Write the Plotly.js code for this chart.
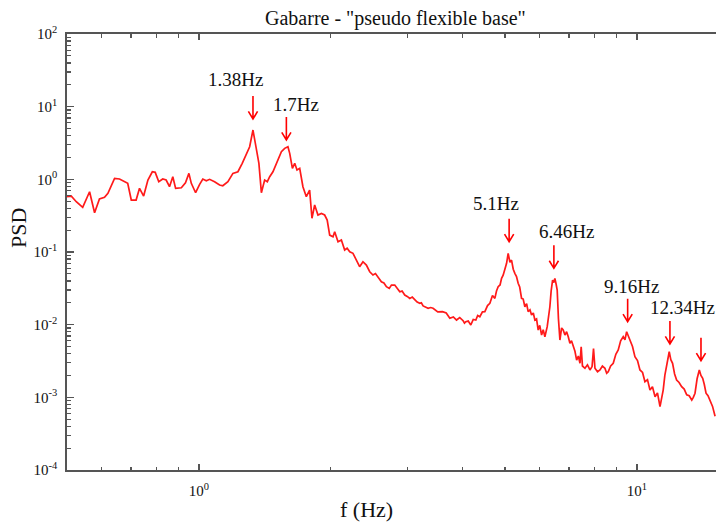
<!DOCTYPE html>
<html>
<head>
<meta charset="utf-8">
<script src="https://cdn.plot.ly/plotly-3.0.1.min.js"></script>
<style>
html,body{margin:0;padding:0;background:#ffffff;}
#chart{width:716px;height:522px;}
</style>
</head>
<body>
<div id="chart"></div>
<script>
// Frequency (Hz)
const freq = [
  0.50,0.511,0.525,0.543,0.563,0.578,0.593,0.609,0.620,0.642,
  0.659,0.688,0.701,0.719,0.732,0.748,0.765,0.783,0.795,0.810,
  0.827,0.842,0.857,0.872,0.885,0.912,0.932,0.949,0.961,0.983,
  1.004,1.021,1.040,1.058,1.086,1.115,1.134,1.165,1.196,1.228,
  1.256,1.283,1.306,1.329,1.352,1.371,1.389,1.413,1.433,1.451,
  1.476,1.503,1.543,1.570,1.597,1.612,1.635,1.655,1.675,1.699,
  1.728,1.759,1.790,1.812,1.838,1.870,1.904,1.937,1.963,1.989,
  2.024,2.042,2.078,2.115,2.152,2.18,2.210,2.248,2.289,2.328,
  2.369,2.412,2.455,2.497,2.53,2.564,2.610,2.645,2.680,2.72,
  2.752,2.800,2.875,2.91,2.951,2.99,3.030,3.07,3.111,3.15,
  3.194,3.22,3.250,3.29,3.337,3.38,3.425,
  3.51,3.599,3.67,3.740,3.81,3.874,3.94,4.011,4.04,4.068,
  4.12,4.176,4.23,4.288,4.33,4.379,4.44,4.496,4.56,4.616,
  4.68,4.739,4.78,4.822,4.87,4.909,4.95,4.994,5.04,5.082,
  5.13,5.173,5.22,5.264,5.31,5.356,5.40,5.453,5.50,5.548,
  5.60,5.645,5.70,5.747,5.80,5.848,5.90,5.951,6.00,6.058,
  6.11,6.164,6.20,6.240,6.28,6.328,6.37,6.419,6.46,6.497,
  6.54,6.576,6.62,6.671,6.73,6.787,6.85,6.910,6.97,7.031,
  7.09,7.155,7.22,7.284,7.35,7.413,7.46,7.51,7.610,7.71,
  7.812,7.90,7.96,8.020,8.13,8.234,8.34,8.452,8.53,8.600,
  8.71,8.829,8.95,9.064,9.18,9.305,9.39,9.473,9.55,9.639,
  9.77,9.895,10.03,10.16,10.30,10.43,10.57,10.71,10.85,11.00,
  11.14,11.29,11.38,11.48,11.58,11.69,11.77,11.85,11.95,12.06,
  12.19,12.32,12.48,12.65,12.82,12.99,13.16,13.34,13.45,13.57,
  13.72,13.88,14.00,14.13,14.25,14.38,14.53,14.69,14.88,15.08
];
// PSD values
const psd = [
  0.576,0.589,0.492,0.412,0.675,0.347,0.536,0.565,0.642,1.032,
  1.010,0.881,0.519,0.519,0.752,0.589,0.978,1.272,1.248,0.927,
  1.010,0.978,0.791,1.086,0.752,0.766,0.898,1.209,0.881,0.654,
  0.853,1.010,0.957,1.000,0.927,0.835,0.816,0.927,1.209,1.272,
  1.661,2.279,2.810,4.769,2.531,1.661,0.654,0.978,0.927,1.086,
  1.272,1.661,2.398,2.671,2.810,2.279,1.417,1.661,1.343,1.417,
  0.791,0.576,0.712,0.291,0.443,0.323,0.340,0.323,0.275,0.171,
  0.162,0.190,0.138,0.146,0.1064,0.113,0.1009,0.0959,0.0775,0.0627,
  0.0735,0.0662,0.0535,0.0482,0.0505,0.0457,0.0390,0.0375,0.0333,0.0315,
  0.0351,0.0351,0.0284,0.0290,0.0256,0.0245,0.0230,0.0240,0.0218,0.0205,
  0.0197,0.0200,0.0181,0.0175,0.0168,0.0172,0.0168,
  0.0150,0.0151,0.0145,0.01223,0.0128,0.01158,0.0125,0.01133,0.0105,0.01098,
  0.0112,0.00989,0.0118,0.01158,0.0134,0.01286,0.0150,0.0151,0.0183,0.0197,
  0.0252,0.0230,0.0290,0.0333,0.0352,0.0434,0.0480,0.0565,0.0700,0.0959,
  0.0720,0.0775,0.0580,0.0509,0.0460,0.0371,0.0330,0.0230,0.0225,0.01765,
  0.0195,0.0151,0.0160,0.01357,0.0145,0.01158,0.0120,0.00844,0.0098,0.00720,
  0.0085,0.00682,0.0080,0.00937,0.0125,0.01765,0.0290,0.0411,0.0380,0.0434,
  0.0360,0.0300,0.0120,0.00614,0.0090,0.00844,0.0072,0.00799,0.0068,0.00554,
  0.0060,0.00497,0.0043,0.00326,0.0037,0.00294,0.00497,0.00270,0.00251,0.00280,
  0.00238,0.00265,0.00470,0.00251,0.00225,0.00238,0.00270,0.00251,0.00215,0.00225,
  0.00270,0.00294,0.00390,0.00448,0.00600,0.00682,0.00620,0.00799,0.00700,0.00614,
  0.00500,0.00362,0.00320,0.00238,0.00220,0.00164,0.00175,0.00126,0.00140,0.00102,
  0.00115,0.000743,0.00095,0.00126,0.00200,0.00264,0.00360,0.00424,0.00330,0.00294,
  0.00210,0.00173,0.00160,0.00140,0.00130,0.00108,0.00105,0.000918,0.00100,0.00114,
  0.00180,0.00238,0.00200,0.00183,0.00150,0.00114,0.00105,0.000918,0.00075,0.00055
];

const xTickVals = [1, 10];
const xTickText = ['10<sup>0</sup>', '10<sup>1</sup>'];
const yTickVals = [1e-4, 1e-3, 1e-2, 1e-1, 1, 10, 100];
const yTickText = ['10<sup>-4</sup>','10<sup>-3</sup>','10<sup>-2</sup>','10<sup>-1</sup>','10<sup>0</sup>','10<sup>1</sup>','10<sup>2</sup>'];
const peakLabels = ['1.38Hz', '1.7Hz', '5.1Hz', '6.46Hz', '9.16Hz', '12.34Hz'];
// arrow tips (Hz, PSD) just above each marked peak
const arrowFreq = [1.329, 1.584, 5.108, 6.463, 9.524, 11.895, 14.003];
const arrowPsd  = [6.76, 3.475, 0.1384, 0.0596, 0.01097, 0.005414, 0.00319];

// minor tick positions
const xMinor = [0.5,0.6,0.7,0.8,0.9,2,3,4,5,6,7,8,9];
const yMinor = [];
for (let e = -4; e < 2; e++) for (let m = 2; m <= 9; m++) yMinor.push(m * Math.pow(10, e));

// label centres (log10 units, as annotations on log axes need)
const labelPos = [[0.0834,1.380],[0.2209,1.036],[0.6786,-0.326],[0.8401,-0.721],[0.9881,-1.468],[1.1044,-1.757]];

const serif = "'Liberation Serif', 'Times New Roman', serif";
const axisColor = '#555555';
const txtColor = '#111111';

const annotations = peakLabels.map((t, i) => ({
  x: labelPos[i][0], y: labelPos[i][1], xref: 'x', yref: 'y',
  xanchor: 'center', yanchor: 'middle',
  text: t, showarrow: false,
  font: {family: serif, size: 19, color: txtColor}
}));
annotations.push({
  x: -0.0755, y: 0.555, xref: 'paper', yref: 'paper', xanchor: 'center', yanchor: 'middle',
  text: 'PSD', textangle: -90,
  showarrow: false, font: {family: serif, size: 22, color: txtColor}
});
annotations.push({
  x: 0.4622, y: -0.0917, xref: 'paper', yref: 'paper', xanchor: 'center', yanchor: 'middle',
  text: 'f (Hz)',
  showarrow: false, font: {family: serif, size: 22, color: txtColor}
});

// down-pointing arrows drawn as pixel-sized paths anchored on the tip
const shapes = arrowFreq.map((f, i) => ({
  type: 'path', xref: 'x', yref: 'y',
  xsizemode: 'pixel', ysizemode: 'pixel',
  xanchor: f, yanchor: arrowPsd[i],
  path: 'M0,23 L0,0 M-4.6,7.6 L0,0 L4.6,7.6',
  line: {color: '#ff0000', width: 1.6},
  fillcolor: 'rgba(0,0,0,0)'
}));

const trace = {
  x: freq, y: psd, type: 'scatter', mode: 'lines',
  line: {color: '#ff1a1a', width: 1.7},
  hoverinfo: 'x+y'
};

const layout = {
  width: 716, height: 522,
  margin: {l: 67, r: 0, t: 34, b: 52},
  paper_bgcolor: '#ffffff', plot_bgcolor: '#ffffff',
  showlegend: false,
  title: {
    text: 'Gabarre - "pseudo flexible base"',
    x: 0.506, xref: 'paper', xanchor: 'center',
    y: 0.9655, yref: 'container', yanchor: 'middle',
    font: {family: serif, size: 20, color: txtColor}
  },
  xaxis: {
    type: 'log', range: [Math.log10(0.5), 1.1805], autorange: false,
    showgrid: false, zeroline: false,
    showline: true, linecolor: axisColor, linewidth: 1.8, mirror: 'ticks',
    ticks: 'inside', ticklen: 6, tickwidth: 1.3, tickcolor: axisColor,
    tickmode: 'array', tickvals: xTickVals, ticktext: xTickText,
    ticklabelstandoff: 6,
    tickfont: {family: serif, size: 15, color: txtColor},
    minor: {tickmode: 'array', tickvals: xMinor, ticks: 'inside', ticklen: 3.5, tickwidth: 1.2, tickcolor: axisColor, showgrid: false}
  },
  yaxis: {
    type: 'log', range: [-4, 2], autorange: false,
    showgrid: false, zeroline: false,
    showline: true, linecolor: axisColor, linewidth: 1.8, mirror: false,
    ticks: 'inside', ticklen: 7, tickwidth: 1.3, tickcolor: axisColor,
    tickmode: 'array', tickvals: yTickVals, ticktext: yTickText,
    ticklabelstandoff: 5,
    tickfont: {family: serif, size: 15, color: txtColor},
    minor: {tickmode: 'array', tickvals: yMinor, ticks: 'inside', ticklen: 4, tickwidth: 1.2, tickcolor: axisColor, showgrid: false}
  },
  annotations: annotations,
  shapes: shapes
};

Plotly.newPlot('chart', [trace], layout, {staticPlot: true, displayModeBar: false});
</script>
</body>
</html>
